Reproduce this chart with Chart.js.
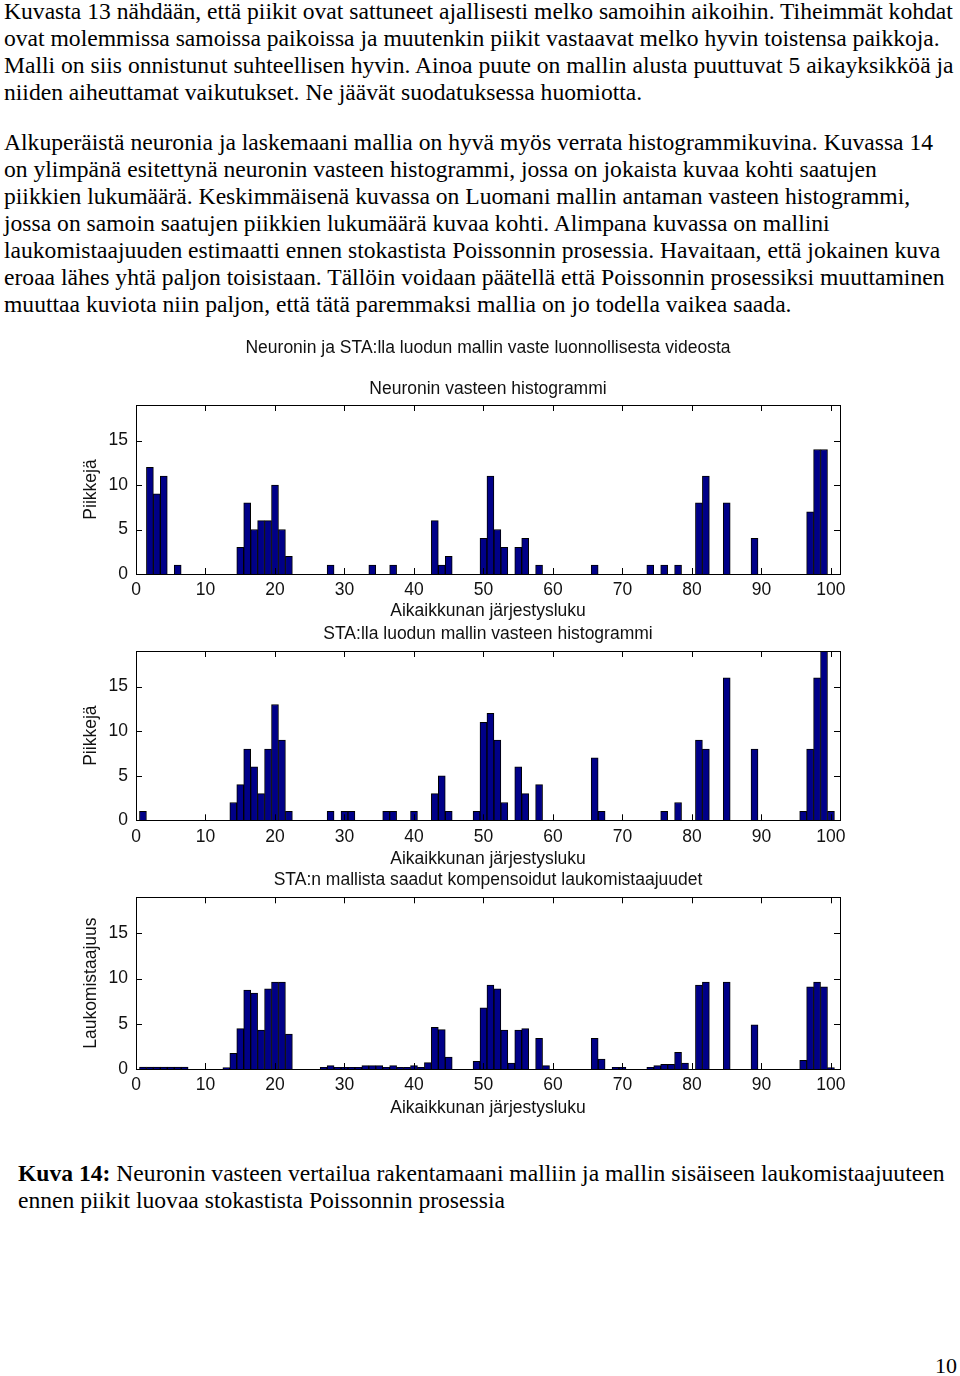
<!DOCTYPE html>
<html>
<head>
<meta charset="utf-8">
<script src="https://cdn.jsdelivr.net/npm/chart.js@4.4.1/dist/chart.umd.min.js"></script>
<style>
body { margin: 0; background: #fff; width: 960px; height: 1376px; position: relative; overflow: hidden; font-family: "Liberation Serif", "Times New Roman", serif; color: #000; }
.txt { position: absolute; left: 4px; font-size: 23.6px; line-height: 27px; white-space: nowrap; }
canvas { position: absolute; left: 0; }
</style>
</head>
<body>
<div class="txt" style="top:-2px">Kuvasta 13 nähdään, että piikit ovat sattuneet ajallisesti melko samoihin aikoihin. Tiheimmät kohdat<br>ovat molemmissa samoissa paikoissa ja muutenkin piikit vastaavat melko hyvin toistensa paikkoja.<br>Malli on siis onnistunut suhteellisen hyvin. Ainoa puute on mallin alusta puuttuvat 5 aikayksikköä ja<br>niiden aiheuttamat vaikutukset. Ne jäävät suodatuksessa huomiotta.</div>
<div class="txt" style="top:129px">Alkuperäistä neuronia ja laskemaani mallia on hyvä myös verrata histogrammikuvina. Kuvassa 14<br>on ylimpänä esitettynä neuronin vasteen histogrammi, jossa on jokaista kuvaa kohti saatujen<br>piikkien lukumäärä. Keskimmäisenä kuvassa on Luomani mallin antaman vasteen histogrammi,<br>jossa on samoin saatujen piikkien lukumäärä kuvaa kohti. Alimpana kuvassa on mallini<br>laukomistaajuuden estimaatti ennen stokastista Poissonnin prosessia. Havaitaan, että jokainen kuva<br>eroaa lähes yhtä paljon toisistaan. Tällöin voidaan päätellä että Poissonnin prosessiksi muuttaminen<br>muuttaa kuviota niin paljon, että tätä paremmaksi mallia on jo todella vaikea saada.</div>

<canvas id="c1" width="960" height="297" style="top:325px"></canvas>
<canvas id="c2" width="960" height="248" style="top:622px"></canvas>
<canvas id="c3" width="960" height="250" style="top:870px"></canvas>

<div class="txt" style="top:1160px; left:18px"><b>Kuva 14:</b> Neuronin vasteen vertailua rakentamaani malliin ja mallin sisäiseen laukomistaajuuteen<br>ennen piikit luovaa stokastista Poissonnin prosessia</div>
<div class="txt" style="top:1352px; left:935px; font-size:22px">10</div>

<script>
const windows = [
    1, 2, 3, 4, 5, 6, 7, 8, 9, 10, 11, 12, 13, 14, 15, 16, 17, 18, 19, 20,
    21, 22, 23, 24, 25, 26, 27, 28, 29, 30, 31, 32, 33, 34, 35, 36, 37, 38, 39, 40,
    41, 42, 43, 44, 45, 46, 47, 48, 49, 50, 51, 52, 53, 54, 55, 56, 57, 58, 59, 60,
    61, 62, 63, 64, 65, 66, 67, 68, 69, 70, 71, 72, 73, 74, 75, 76, 77, 78, 79, 80,
    81, 82, 83, 84, 85, 86, 87, 88, 89, 90, 91, 92, 93, 94, 95, 96, 97, 98, 99, 100
];

// neuronin vaste, piikkejä / aikaikkuna
const neuronSpikes = [
    0, 12, 9, 11, 0, 1, 0, 0, 0, 0, 0, 0, 0, 0, 3, 8, 5, 6, 6, 10,
    5, 2, 0, 0, 0, 0, 0, 1, 0, 0, 0, 0, 0, 1, 0, 0, 1, 0, 0, 0,
    0, 0, 6, 1, 2, 0, 0, 0, 0, 4, 11, 5, 3, 0, 3, 4, 0, 1, 0, 0,
    0, 0, 0, 0, 0, 1, 0, 0, 0, 0, 0, 0, 0, 1, 0, 1, 0, 1, 0, 0,
    8, 11, 0, 0, 8, 0, 0, 0, 4, 0, 0, 0, 0, 0, 0, 0, 7, 14, 14, 0
];

// STA-mallin vaste
const modelSpikes = [
    1, 0, 0, 0, 0, 0, 0, 0, 0, 0, 0, 0, 0, 2, 4, 8, 6, 3, 8, 13,
    9, 1, 0, 0, 0, 0, 0, 1, 0, 1, 1, 0, 0, 0, 0, 1, 1, 0, 0, 1,
    0, 0, 3, 5, 1, 0, 0, 0, 1, 11, 12, 9, 2, 0, 6, 3, 0, 4, 0, 0,
    0, 0, 0, 0, 0, 7, 1, 0, 0, 0, 0, 0, 0, 0, 0, 1, 0, 2, 0, 0,
    9, 8, 0, 0, 16, 0, 0, 0, 8, 0, 0, 0, 0, 0, 0, 1, 8, 16, 19, 1
];

// kompensoidut laukomistaajuudet
const modelRates = [
    0.2, 0.2, 0.2, 0.2, 0.2, 0.2, 0.2, 0, 0, 0, 0, 0, 0.15, 1.73, 4.46, 8.74, 8.4, 4.31, 8.88, 9.62,
    9.62, 3.87, 0, 0, 0, 0, 0.18, 0.37, 0.18, 0.18, 0.18, 0.18, 0.37, 0.37, 0.37, 0.18, 0.37, 0.18, 0.18, 0.37,
    0.18, 0.7, 4.6, 4.35, 1.33, 0, 0, 0, 0.85, 6.78, 9.29, 8.88, 4.31, 0.66, 4.31, 4.46, 0, 3.39, 0.37, 0,
    0, 0, 0, 0, 0, 3.39, 1.1, 0, 0.18, 0.18, 0, 0, 0, 0.18, 0.37, 0.52, 0.52, 1.84, 0.66, 0,
    9.29, 9.62, 0, 0, 9.62, 0, 0, 0, 4.9, 0, 0, 0, 0, 0, 0, 0.96, 9.1, 9.62, 9.1, 0.15
];

const xTickValues = [0, 10, 20, 30, 40, 50, 60, 70, 80, 90, 100];
const yTickValues = [0, 5, 10, 15];

Chart.defaults.color = '#111';
Chart.defaults.font.family = '"Liberation Sans", Arial, sans-serif';
Chart.defaults.font.size = 17.5;

// matlab-tyylinen laatikko ja sisäänpäin osoittavat tikit
const matlabBox = {
    id: 'matlabBox',
    afterDatasetsDraw(chart)
    {
        const { ctx, chartArea: a, scales: { x, y } } = chart;
        const len = 6;
        ctx.save();
        ctx.strokeStyle = '#000';
        ctx.lineWidth = 1;
        ctx.beginPath();
        x.ticks.forEach((t) => {
            const px = Math.round(x.getPixelForValue(t.value)) + 0.5;
            ctx.moveTo(px, a.bottom); ctx.lineTo(px, a.bottom - len);
            ctx.moveTo(px, a.top); ctx.lineTo(px, a.top + len);
        });
        y.ticks.forEach((t) => {
            const py = Math.round(y.getPixelForValue(t.value)) + 0.5;
            ctx.moveTo(a.left, py); ctx.lineTo(a.left + len, py);
            ctx.moveTo(a.right, py); ctx.lineTo(a.right - len, py);
        });
        ctx.stroke();
        ctx.strokeRect(Math.round(a.left) + 0.5, Math.round(a.top) + 0.5,
            Math.round(a.right - a.left), Math.round(a.bottom - a.top));
        ctx.restore();
    }
};

function histChart(id, values, o)
{
    return new Chart(document.getElementById(id), {
        type: 'bar',
        data: {
            datasets: [{
                data: windows.map((w, i) => { return { x: w, y: values[i] } }),
                backgroundColor: '#000088',
                borderColor: '#000',
                borderWidth: 1,
                barPercentage: 1,
                categoryPercentage: 1
            }]
        },
        options: {
            responsive: false,
            animation: false,
            devicePixelRatio: 1,
            layout: { padding: { left: 0, right: 120, top: 0, bottom: 0 } },
            plugins: {
                legend: { display: false },
                tooltip: { enabled: false },
                title: { display: true, fullSize: false, text: o.title, font: { weight: 'normal' }, padding: o.titlePad },
                subtitle: { display: !!o.subtitle, fullSize: false, text: o.subtitle || '', font: { weight: 'normal', size: 17.5 }, color: '#111', padding: o.subPad || 0 }
            },
            scales: {
                x: {
                    type: 'linear', min: 0, max: 101.3, offset: false,
                    grid: { display: false, drawTicks: false, tickLength: 0 }, border: { display: false },
                    ticks: { padding: 6, maxRotation: 0, autoSkip: false },
                    afterBuildTicks: (s) => { s.ticks = xTickValues.map((v) => { return { value: v } }) },
                    afterFit: (s) => { s.height = o.xHeight; s.paddingLeft = 0; s.paddingRight = 0; },
                    title: { display: true, text: 'Aikaikkunan järjestysluku', padding: { top: 0, bottom: o.xTitlePad } }
                },
                y: {
                    min: 0, max: 19,
                    grid: { display: false, drawTicks: false, tickLength: 0 }, border: { display: false },
                    ticks: { padding: 8 },
                    afterBuildTicks: (s) => { s.ticks = yTickValues.map((v) => { return { value: v } }) },
                    afterFit: (s) => { s.width = 136; s.paddingTop = 0; s.paddingBottom = 0; },
                    title: { display: true, text: o.yTitle, padding: { top: 80.5, bottom: 0 } }
                }
            }
        },
        plugins: [matlabBox]
    });
}

histChart('c1', neuronSpikes, {
    title: 'Neuronin ja STA:lla luodun mallin vaste luonnollisesta videosta',
    titlePad: { top: 12.5, bottom: 0 },
    subtitle: 'Neuronin vasteen histogrammi',
    subPad: { top: 20, bottom: 5.5 },
    yTitle: 'Piikkejä',
    xHeight: 48,
    xTitlePad: 0
});

histChart('c2', modelSpikes, {
    title: 'STA:lla luodun mallin vasteen histogrammi',
    titlePad: { top: 1.5, bottom: 6.5 },
    yTitle: 'Piikkejä',
    xHeight: 49.7,
    xTitlePad: 0.5
});

histChart('c3', modelRates, {
    title: 'STA:n mallista saadut kompensoidut laukomistaajuudet',
    titlePad: { top: 0, bottom: 6.3 },
    yTitle: 'Laukomistaajuus',
    xHeight: 51,
    xTitlePad: 1.5
});
</script>
</body>
</html>
